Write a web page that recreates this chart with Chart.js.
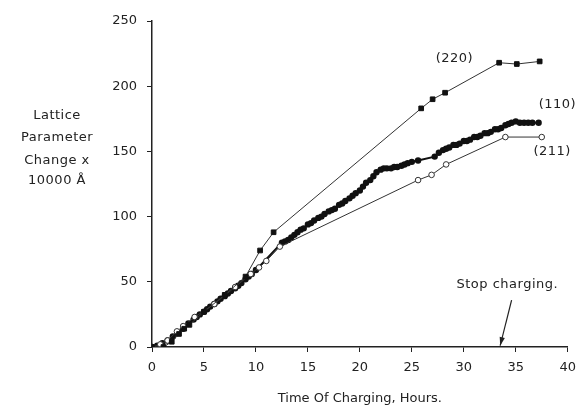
<!DOCTYPE html>
<html>
<head>
<meta charset="utf-8">
<script src="https://cdn.jsdelivr.net/npm/chart.js@4.4.1/dist/chart.umd.min.js"></script>
<style>
  html, body { margin: 0; padding: 0; background: #fff; }
  #wrap { width: 584px; height: 410px; }
</style>
</head>
<body>
<div id="wrap"><canvas id="chart" width="584" height="410"></canvas></div>
<script>
// (220) reflection - filled squares
const hours220 = [0, 1.1, 1.9, 2.6, 3.1, 3.6, 5, 7, 9, 10.4, 11.7, 25.9, 27.0, 28.2, 33.4, 35.1, 37.3];
const values220 = [0, 0, 4, 10, 14, 17, 27, 40, 54, 74, 88, 183, 190, 195, 218, 217, 219];

// (110) reflection - dense filled dots
const hours110 = [0, 0.5, 1, 1.5, 2, 2.5, 3, 3.5, 4, 4.3, 4.6, 5, 5.3, 5.6, 6, 6.3, 6.6, 7, 7.3, 7.6,
  8, 8.3, 8.6, 9, 9.3, 9.6, 10,
  12.5, 12.8, 13.1, 13.4, 13.7, 14, 14.3, 14.6, 15, 15.3, 15.6, 16, 16.3, 16.6, 17, 17.3, 17.6,
  18, 18.3, 18.6, 19, 19.3, 19.6, 20, 20.3, 20.6, 21, 21.3, 21.6, 22, 22.3, 22.6, 23, 23.3, 23.6,
  24, 24.3, 24.6, 25, 25.6, 27.2, 27.6, 28, 28.3, 28.6, 29, 29.3, 29.6, 30, 30.3, 30.6, 31, 31.3,
  31.6, 32, 32.3, 32.6, 33, 33.3, 33.6, 34, 34.3, 34.6, 35, 35.4, 35.8, 36.2, 36.6, 37.2];
const values110 = [0, 1, 3, 5, 8, 11, 14, 18, 21, 23, 25, 27, 29, 31, 33, 35, 37, 39, 41, 43,
  45, 47, 49, 52, 54, 56, 59,
  80, 81, 82, 84, 86, 88, 90, 91, 94, 95, 97, 99, 100, 102, 104, 105, 106,
  109, 110, 112, 114, 116, 118, 120, 123, 126, 128, 131, 134, 136, 137, 137, 137, 138, 138,
  139, 140, 141, 142, 143, 146, 149, 151, 152, 153, 155, 155, 156, 158, 158, 159, 161, 161,
  162, 164, 164, 165, 167, 167, 168, 170, 171, 172, 173, 172, 172, 172, 172, 172];

// (211) reflection - open markers
const hours211 = [0, 0.8, 1.5, 2.4, 3, 4.1, 6, 8, 9.5, 10.3, 11, 12.3, 25.6, 26.9, 28.3, 34, 37.5];
const values211 = [0, 2, 5, 12, 16, 23, 33, 46, 56, 61, 66, 77, 128, 132, 140, 161, 161];

const xTicks = [0, 5, 10, 15, 20, 25, 30, 35, 40];
const yTicks = [0, 50, 100, 150, 200, 250];
const stopHour = 33.5;

const pts = (xs, ys) => xs.map((x, i) => ({ x: x, y: ys[i] }));
const FONT = '"DejaVu Sans", sans-serif';

const labelsPlugin = {
  id: 'labels',
  afterDraw(chart) {
    const ctx = chart.ctx;
    const xs = chart.scales.x, ys = chart.scales.y;
    ctx.save();
    ctx.fillStyle = '#222';
    ctx.font = '13px ' + FONT;
    ctx.textBaseline = 'middle';
    ctx.letterSpacing = '0.5px';

    // y axis title, horizontal lines
    ctx.textAlign = 'center';
    const yTitle = ['Lattice', 'Parameter', 'Change x', '10000 Å'];
    const yPos = [116, 138, 161, 181];
    yTitle.forEach((t, i) => ctx.fillText(t, 57, yPos[i]));

    // series labels
    ctx.textAlign = 'left';
    ctx.fillText('(220)', xs.getPixelForValue(27.3), ys.getPixelForValue(221));
    ctx.fillText('(110)', xs.getPixelForValue(37.2), ys.getPixelForValue(186));
    ctx.fillText('(211)', xs.getPixelForValue(36.7), ys.getPixelForValue(150));

    // stop charging note + arrow
    ctx.fillText('Stop charging.', xs.getPixelForValue(29.3), ys.getPixelForValue(48));
    const x1 = xs.getPixelForValue(34.6), y1 = ys.getPixelForValue(36);
    const x2 = xs.getPixelForValue(stopHour), y2 = ys.getPixelForValue(1);
    ctx.strokeStyle = '#222';
    ctx.lineWidth = 1.2;
    ctx.beginPath();
    ctx.moveTo(x1, y1);
    ctx.lineTo(x2, y2);
    ctx.stroke();
    const a = Math.atan2(y2 - y1, x2 - x1);
    ctx.beginPath();
    ctx.moveTo(x2, y2);
    ctx.lineTo(x2 - 9 * Math.cos(a - 0.3), y2 - 9 * Math.sin(a - 0.3));
    ctx.lineTo(x2 - 9 * Math.cos(a + 0.3), y2 - 9 * Math.sin(a + 0.3));
    ctx.closePath();
    ctx.fill();
    ctx.restore();
  }
};

new Chart(document.getElementById('chart'), {
  type: 'scatter',
  data: {
    datasets: [
      {
        label: '(220)',
        data: pts(hours220, values220),
        showLine: true,
        borderColor: '#333',
        borderWidth: 1,
        pointStyle: 'rect',
        pointRadius: 3.3,
        backgroundColor: '#111',
        pointBorderColor: '#111'
      },
      {
        label: '(211)',
        data: pts(hours211, values211),
        showLine: true,
        borderColor: '#333',
        borderWidth: 1,
        pointStyle: 'circle',
        pointRadius: 2.8,
        backgroundColor: '#fff',
        pointBorderColor: '#333',
        pointBorderWidth: 1
      },
      {
        label: '(110)',
        data: pts(hours110, values110),
        showLine: true,
        borderColor: '#111',
        borderWidth: 2,
        pointStyle: 'circle',
        pointRadius: 2.2,
        backgroundColor: '#111',
        pointBorderColor: '#111'
      }
    ]
  },
  options: {
    responsive: false,
    animation: false,
    layout: { padding: { left: 0, top: 21, right: 11, bottom: 0 } },
    plugins: { legend: { display: false }, tooltip: { enabled: false } },
    scales: {
      x: {
        type: 'linear',
        min: 0,
        max: 40,
        afterBuildTicks: s => { s.ticks = xTicks.map(v => ({ value: v })); },
        afterFit: s => { s.height = 63; },
        border: { color: '#222', width: 1.5 },
        grid: { drawOnChartArea: false, color: '#222', tickLength: 5 },
        ticks: { color: '#222', font: { family: FONT, size: 13 }, padding: 8, maxRotation: 0 },
        title: {
          display: true,
          text: 'Time Of Charging, Hours.',
          color: '#222',
          font: { family: FONT, size: 13 },
          padding: { top: 0, bottom: 4 }
        }
      },
      y: {
        type: 'linear',
        min: 0,
        max: 250,
        afterBuildTicks: s => { s.ticks = yTicks.map(v => ({ value: v })); },
        afterFit: s => { s.width = 152; },
        border: { color: '#222', width: 1.5 },
        grid: { drawOnChartArea: false, color: '#222', tickLength: 5 },
        ticks: { color: '#222', font: { family: FONT, size: 13 }, padding: 10 }
      }
    }
  },
  plugins: [labelsPlugin]
});
</script>
</body>
</html>
